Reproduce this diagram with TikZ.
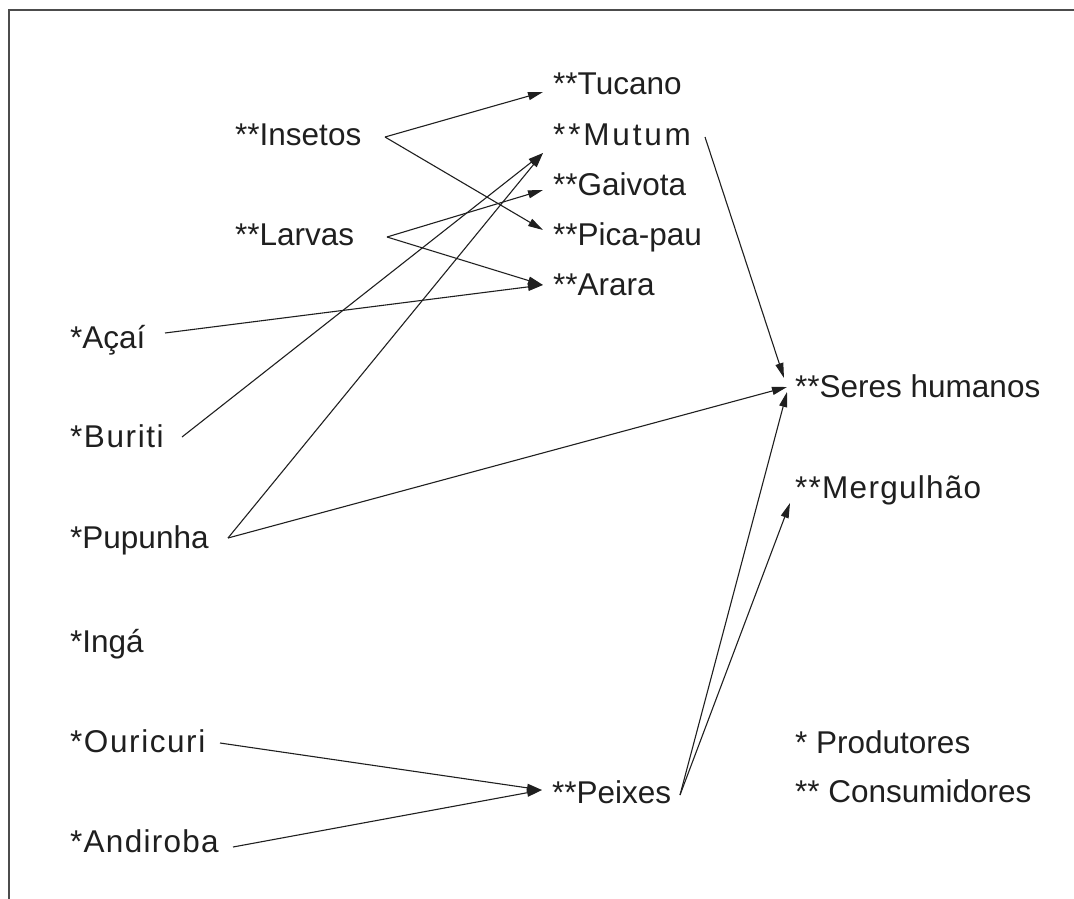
\documentclass[tikz,border=0pt]{standalone}
\usepackage{fontspec}
\setmainfont{Liberation Sans}
\usetikzlibrary{arrows.meta}
\begin{document}
\begin{tikzpicture}[x=1pt,y=-1pt,
  lbl/.style={anchor=base west,inner sep=0pt,font=\fontsize{31.5}{37}\selectfont,text=black!88},
  sp/.style={font=\fontsize{31.5}{37}\selectfont\addfontfeature{LetterSpace=#1}},
  arr/.style={-{Triangle[length=15pt,width=8pt]},line width=1.1pt,draw=black!88}]
\useasboundingbox (0,0) rectangle (1074,899);
\draw[line width=2pt,black!70] (1080,10.5) -- (8.5,10.5) -- (8.5,905);
% nodes
\node[lbl] (tucano) at (553,95) {**Tucano};
\node[lbl] (insetos) at (235,145) {**Insetos};
\node[lbl,sp=9] (mutum) at (553,145) {**Mutum};
\node[lbl] (gaivota) at (553,195) {**Gaivota};
\node[lbl] (picapau) at (553,245) {**Pica-pau};
\node[lbl] (larvas) at (235,245) {**Larvas};
\node[lbl] (arara) at (553,295) {**Arara};
\node[lbl] (acai) at (70,348) {*Açaí};
\node[lbl,sp=5] (buriti) at (70,447) {*Buriti};
\node[lbl] (pupunha) at (70,548) {*Pupunha};
\node[lbl] (inga) at (70,652) {*Ingá};
\node[lbl,sp=5] (ouricuri) at (70,752) {*Ouricuri};
\node[lbl,sp=4] (andiroba) at (70,852) {*Andiroba};
\node[lbl] (peixes) at (552,803) {**Peixes};
\node[lbl] (seres) at (795,397) {**Seres humanos};
\node[lbl,sp=4] (merg) at (795,498) {**Mergulhão};
\node[lbl] (prod) at (795,753) {* Produtores};
\node[lbl] (cons) at (795,802) {** Consumidores};
% connectors
\draw[arr] ([shift={(150,-8)}]insetos.base west) -- ([shift={(-10,-3)}]tucano.base west);
\draw[arr] ([shift={(150,-8)}]insetos.base west) -- ([shift={(-10,-15)}]picapau.base west);
\draw[arr] ([shift={(152,-8)}]larvas.base west) -- ([shift={(-10,-5)}]gaivota.base west);
\draw[arr] ([shift={(152,-8)}]larvas.base west) -- ([shift={(-10,-10)}]arara.base west);
\draw[arr] ([shift={(95,-15)}]acai.base west) -- ([shift={(-10,-10)}]arara.base west);
\draw[arr] ([shift={(112,-10)}]buriti.base west) -- ([shift={(-10,8)}]mutum.base west);
\draw[arr] ([shift={(158,-10)}]pupunha.base west) -- ([shift={(-10,8)}]mutum.base west);
\draw[arr] ([shift={(158,-10)}]pupunha.base west) -- ([shift={(-8,-10)}]seres.base west);
\draw[arr] ([shift={(152,-8)}]mutum.base west) -- ([shift={(-11,-19)}]seres.base west);
\draw[arr] ([shift={(128,-8)}]peixes.base west) -- ([shift={(-8,-5)}]seres.base west);
\draw[arr] ([shift={(128,-8)}]peixes.base west) -- ([shift={(-5,5)}]merg.base west);
\draw[arr] ([shift={(150,-9)}]ouricuri.base west) -- ([shift={(-10,-13)}]peixes.base west);
\draw[arr] ([shift={(163,-5)}]andiroba.base west) -- ([shift={(-10,-13)}]peixes.base west);
\end{tikzpicture}
\end{document}
